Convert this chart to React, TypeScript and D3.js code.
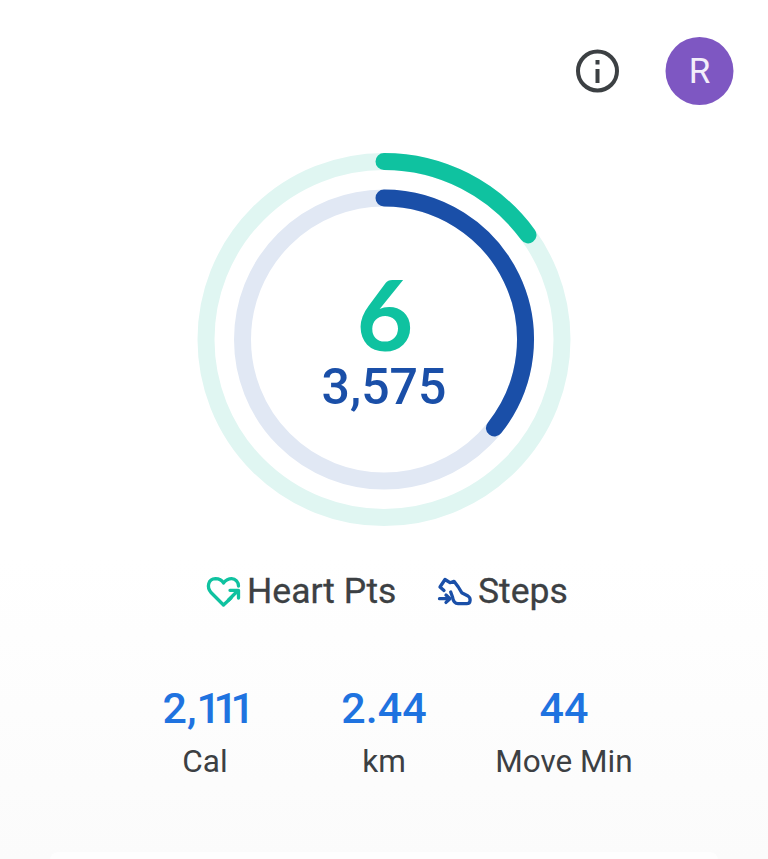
import React from "react";
import * as d3 from "d3";

const rings = ["Heart Pts", "Steps"];
const ringValues = [6, 3575];
const ringGoals = [40, 10000];
const ringLabels = ["6", "3,575"];
const statValues = ["2,111", "2.44", "44"];
const statLabels = ["Cal", "km", "Move Min"];
const avatarLetter = "R";

const W = 768, H = 859, cx = 384, cy = 339.5;
const font = "Roboto, 'Open Sans', sans-serif";
const dark = "#3c4043";
const blueText = "#1f73e0";
const ringColors = ["#0fc2a0", "#1a4fa8"];
const trackColors = ["#e0f6f2", "#e1e8f4"];
const radii = [178, 141.5];
const ringWidth = 17;
const statX = [205, 384, 564];

export default function App() {
  const angle = (i: number) =>
    d3.scaleLinear().domain([0, ringGoals[i]]).range([0, 2 * Math.PI])(ringValues[i]);
  const arcPath = (i: number) => {
    const p = d3.path();
    p.arc(0, 0, radii[i], -Math.PI / 2, angle(i) - Math.PI / 2);
    return p.toString();
  };
  // The source face sets "1" much narrower than Roboto does, so runs of 1s are tightened.
  const statRuns = (v: string) => v.split(/(1+)/).filter(Boolean);

  return (
    <svg
      width={W}
      height={H}
      viewBox={`0 0 ${W} ${H}`}
      style={{ position: "fixed", left: 0, top: 0, display: "block" }}
      fontFamily={font}
    >
      <defs>
        <linearGradient id="bg" x1="0" y1="0" x2="0" y2="1">
          <stop offset="0" stopColor="#ffffff" />
          <stop offset="0.65" stopColor="#ffffff" />
          <stop offset="1" stopColor="#fbfbfb" />
        </linearGradient>
      </defs>
      <rect width={W} height={H} fill="url(#bg)" />
      <rect x={50} y={852} width={668} height={20} rx={8} fill="#fefefe" />

      {/* info icon */}
      <circle cx={597.5} cy={71} r={19.5} fill="none" stroke={dark} strokeWidth={4} />
      <rect x={595.5} y={69} width={4} height={14} fill={dark} />
      <rect x={595.5} y={60} width={4} height={4.5} fill={dark} />

      {/* avatar */}
      <circle cx={699.5} cy={71} r={34} fill="#7e57c2" />
      <text x={699.5} y={83} textAnchor="middle" fontSize={35} fill="#f3eefa">
        {avatarLetter}
      </text>

      {/* rings */}
      <g transform={`translate(${cx},${cy})`} fill="none" strokeWidth={ringWidth}>
        {rings.map((r, i) => (
          <g key={r}>
            <circle r={radii[i]} stroke={trackColors[i]} />
            <path d={arcPath(i)} stroke={ringColors[i]} strokeLinecap="round" />
          </g>
        ))}
      </g>

      <text x={385} y={351} textAnchor="middle" fontSize={98} fontFamily="Lato, Roboto, sans-serif" fontWeight={700} fill={ringColors[0]}>
        {ringLabels[0]}
      </text>
      <text x={384} y={404} textAnchor="middle" fontSize={50} fontWeight={500} fill={ringColors[1]}>
        {ringLabels[1]}
      </text>

      {/* legend */}
      <g fill="none" strokeWidth={3.3} strokeLinecap="round" strokeLinejoin="round">
        <path
          d="M231 598 L223.5 605 L211 592.5 C206.5 587 208 579 215.5 578.7 C219 578.7 222 580.5 223.5 583 C225.5 580.5 228 578.7 231.7 578.7 C235.5 578.7 238.5 582 238.5 586"
          stroke={ringColors[0]}
        />
        <path d="M228.5 600 L238 590.5 M230 590.3 H238.5 V598" stroke={ringColors[0]} />
        <path
          d="M444 590.5 L440 587 L445 579.5 L450 582.7 L454 581.3 L458.3 587 L461.7 592.7 L468 596 C471 598 471 603.7 466.7 603.7 L458 603.7 C454 603.7 453 600 452.5 597 L450.7 592"
          stroke={ringColors[1]}
        />
        <path d="M439.5 598.7 H450 M446 595 L450 598.7 L446 602.4" stroke={ringColors[1]} />
      </g>
      <text x={247} y={603} fontSize={35.5} fill={dark} stroke={dark} strokeWidth={0.3}>
        {rings[0]}
      </text>
      <text x={478} y={603} fontSize={35.5} fill={dark} stroke={dark} strokeWidth={0.3}>
        {rings[1]}
      </text>

      {/* stats */}
      {statValues.map((v, i) => (
        <g key={v} textAnchor="middle">
          <text x={statX[i]} y={723} fontSize={43} fontWeight={500} fill={blueText}>
            {statRuns(v).map((run, j) => (
              <tspan key={j} letterSpacing={run[0] === "1" ? -7.5 : 0}>
                {run}
              </tspan>
            ))}
          </text>
          <text x={statX[i]} y={772} fontSize={31.5} fill={dark}>
            {statLabels[i]}
          </text>
        </g>
      ))}
    </svg>
  );
}
